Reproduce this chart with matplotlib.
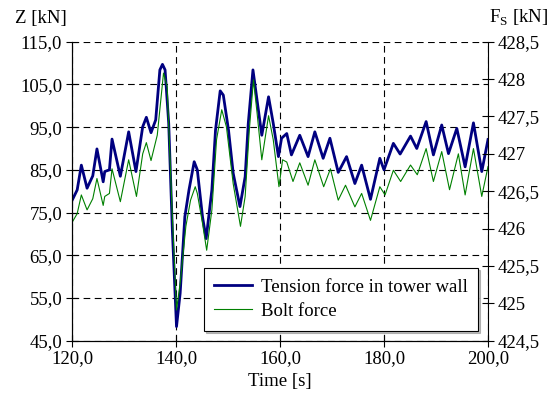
import matplotlib
matplotlib.use("Agg")
import matplotlib.pyplot as plt
from matplotlib.ticker import FuncFormatter, MultipleLocator

plt.rcParams['font.family'] = 'Liberation Serif'
plt.rcParams['mathtext.fontset'] = 'custom'
plt.rcParams['mathtext.rm'] = 'Liberation Serif'
plt.rcParams['font.size'] = 13.5

# Tension force in tower wall (left axis, kN)
t_zug = [120.0, 121.0, 121.8, 122.9, 124.0, 124.8, 126.0, 126.3, 127.2, 127.7,
         129.3, 130.9, 132.3, 133.6, 134.3, 135.2, 136.1, 136.9, 137.4, 137.9,
         138.6, 139.3, 140.1, 140.8, 141.7, 142.5, 143.5, 144.1, 145.1, 145.8,
         146.9, 147.6, 148.5, 149.1, 150.1, 151.0, 152.3, 153.3, 153.9, 154.8,
         155.5, 156.5, 157.8, 158.7, 159.7, 160.3, 161.3, 162.2, 163.8, 165.4,
         166.7, 168.3, 169.6, 171.2, 172.8, 174.4, 175.7, 177.4, 179.2, 180.0,
         181.8, 183.1, 185.1, 186.3, 188.1, 189.5, 191.1, 192.4, 194.0, 195.6,
         197.2, 198.8, 200.0]
z_zug = [77.8, 80.3, 86.1, 80.7, 83.6, 89.9, 82.2, 84.6, 85.0, 92.2,
         83.5, 93.9, 84.6, 95.1, 97.3, 93.7, 96.7, 108.4, 109.7, 108.4,
         95.9, 70.9, 48.3, 56.1, 74.0, 80.3, 86.9, 85.0, 74.0, 68.9,
         80.3, 94.3, 103.5, 102.5, 94.3, 84.2, 76.4, 83.4, 95.9, 108.4,
         102.1, 93.1, 102.1, 95.9, 88.1, 92.4, 93.5, 88.5, 93.1, 88.1,
         93.9, 87.7, 92.4, 84.4, 88.1, 81.8, 86.1, 78.1, 87.7, 85.0,
         91.2, 88.7, 92.9, 90.0, 96.3, 88.5, 95.5, 88.8, 94.7, 85.7,
         96.0, 84.6, 92.1]

# Bolt force (right axis, kN)
t_bolt = [120.0, 121.0, 121.8, 122.9, 124.0, 124.8, 126.0, 126.3, 127.2, 127.7,
          129.3, 130.9, 132.4, 133.6, 134.3, 135.2, 136.4, 137.6, 138.3, 139.3,
          140.1, 140.8, 141.9, 142.8, 143.7, 144.1, 145.1, 145.9, 146.9, 147.8,
          148.8, 149.7, 151.0, 152.4, 153.3, 154.1, 154.9, 155.6, 156.5, 157.8,
          158.7, 159.8, 160.5, 161.3, 162.5, 163.8, 165.4, 166.7, 168.4, 169.7,
          171.2, 172.6, 174.4, 175.7, 177.4, 179.2, 180.2, 181.8, 183.2, 185.1,
          186.4, 188.1, 189.5, 191.1, 192.6, 194.3, 195.6, 197.2, 198.8, 200.0]
f_bolt = [426.08, 426.20, 426.45, 426.25, 426.40, 426.67, 426.31, 426.43, 426.47, 426.80,
          426.36, 426.92, 426.43, 427.00, 427.15, 426.91, 427.25, 428.08, 427.90, 426.16,
          424.91, 425.27, 426.03, 426.38, 426.56, 426.47, 426.07, 425.71, 426.25, 427.19,
          427.59, 427.36, 426.60, 426.03, 426.43, 427.32, 427.99, 427.54, 426.92, 427.51,
          427.19, 426.56, 426.92, 426.89, 426.63, 426.88, 426.58, 426.92, 426.56, 426.80,
          426.38, 426.58, 426.29, 426.47, 426.11, 426.56, 426.45, 426.78, 426.63, 426.85,
          426.72, 427.07, 426.63, 427.03, 426.52, 427.00, 426.45, 427.07, 426.43, 426.83]

z_ticks = [45, 55, 65, 75, 85, 95, 105, 115]

fig = plt.figure(figsize=(5.55, 4.05), dpi=100)
ax = fig.add_axes([0.1297, 0.1588, 0.7496, 0.7382])
ax2 = ax.twinx()

l1, = ax.plot(t_zug, z_zug, color='#000080', lw=2.0, label='Tension force in tower wall')
l2, = ax2.plot(t_bolt, f_bolt, color='#008000', lw=0.8, label='Bolt force')

ax.set_xlim(120, 200)
ax.set_ylim(45, 115)
ax2.set_ylim(424.5, 428.5)
ax.xaxis.set_major_locator(MultipleLocator(20))
ax.set_yticks(z_ticks)
ax2.yaxis.set_major_locator(MultipleLocator(0.5))

komma1 = lambda v, pos: f'{v:.1f}'.replace('.', ',')
def komma_r(v, pos):
    if abs(v - round(v)) < 1e-6:
        return f'{int(round(v))}'
    return f'{v:.1f}'.replace('.', ',')

ax.xaxis.set_major_formatter(FuncFormatter(komma1))
ax.yaxis.set_major_formatter(FuncFormatter(komma1))
ax2.yaxis.set_major_formatter(FuncFormatter(komma_r))

ax.grid(True, color='black', linestyle=(0, (6, 4)), lw=0.8)
for a in (ax, ax2):
    a.tick_params(direction='inout', length=8, width=0.8, pad=3)
    a.spines['top'].set_visible(False)
ax.spines['right'].set_visible(False)

ax.set_xlabel('Time [s]', labelpad=4)
fig.text(0.027, 0.955, 'Z [kN]', ha='left', va='center')
fig.text(0.988, 0.955, r'F$_\mathrm{S}$ [kN]', ha='right', va='center')

leg = ax2.legend([l1, l2], [l1.get_label(), l2.get_label()], loc='lower right',
                 bbox_to_anchor=(0.99, 0.015), fancybox=False,
                 shadow={'ox': 1.5, 'oy': -1.5, 'shade': 0.5},
                 edgecolor='black', framealpha=1, handlelength=2.0,
                 borderpad=0.55, labelspacing=0.35, handletextpad=0.5,
                 borderaxespad=0.3, handleheight=0.8)
leg._legend_box.align = 'left'
leg.get_frame().set_linewidth(0.8)
# a bit more room on the left side of the legend box, like in the original
leg._legend_box.sep = 0
leg.set_bbox_to_anchor((0.99, 0.015), transform=ax2.transAxes)

fig.savefig('out.png', dpi=100)
